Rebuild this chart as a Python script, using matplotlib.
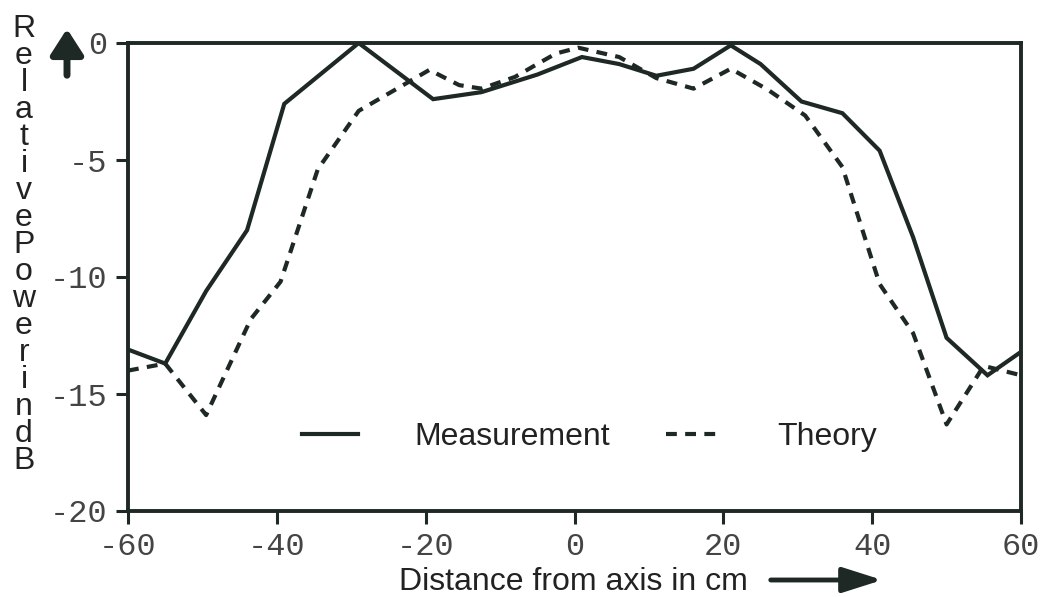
import matplotlib
matplotlib.use("Agg")
import matplotlib.pyplot as plt

# values (distance in cm, relative power in dB)
meas_x = [-60, -55, -49.5, -44, -39, -29, -19, -12.5, -5, 1, 6, 11, 16, 21,
          25, 30.5, 36, 41, 45.5, 50, 55.5, 60]
meas_y = [-13.1, -13.7, -10.6, -8.0, -2.6, 0.0, -2.4, -2.1, -1.35, -0.6, -0.9,
          -1.4, -1.1, -0.1, -0.9, -2.5, -3.0, -4.6, -8.3, -12.6, -14.2, -13.2]

theo_x = [-60, -55, -49.5, -43.5, -39.5, -34.5, -29, -19.5, -15.5, -12.5, -8,
          -5, -2.5, 0.5, 6, 11, 16, 21, 26, 31, 36, 41, 45.5, 50, 55, 60]
theo_y = [-14.0, -13.7, -15.9, -11.8, -10.2, -5.4, -2.9, -1.15, -1.8, -1.95,
          -1.45, -0.9, -0.45, -0.2, -0.6, -1.5, -1.95, -1.1, -2.0, -3.1, -5.3,
          -10.3, -12.4, -16.3, -13.8, -14.2]

x_ticks = [-60, -40, -20, 0, 20, 40, 60]
y_ticks = [-20, -15, -10, -5, 0]
ylabel_text = "RelativePowerindB"

ink = "#1e2824"
plt.rcParams["axes.unicode_minus"] = False

W, H = 1041, 597
fig = plt.figure(figsize=(W / 100, H / 100), dpi=100)
ax = fig.add_axes([128 / W, 1 - 511 / H, (1021 - 128) / W, (511 - 43) / H])

ax.plot(meas_x, meas_y, color=ink, lw=3.0, solid_joinstyle="miter",
        label="Measurement")
ax.plot(theo_x, theo_y, color=ink, lw=3.0, dashes=(2.6, 2.0),
        label="Theory")

ax.set_xlim(-60, 60)
ax.set_ylim(-20, 0)
ax.set_xticks(x_ticks)
ax.set_yticks(y_ticks)
ax.set_xticklabels([str(v) for v in x_ticks])
ax.set_yticklabels([str(v) for v in y_ticks])
for s in ax.spines.values():
    s.set_linewidth(2.8)
    s.set_color(ink)
ax.tick_params(direction="out", length=9, width=2.2, color=ink,
               labelcolor="#444444", labelsize=23, pad=6)
for lab in ax.get_xticklabels() + ax.get_yticklabels():
    lab.set_family("Liberation Mono")

leg = ax.legend(loc="center", bbox_to_anchor=(0.517, 0.158), ncol=2,
                frameon=False, handlelength=1.75, handletextpad=1.75,
                columnspacing=1.75,
                prop={"family": "Liberation Sans", "size": 23})
for t in leg.get_texts():
    t.set_color("#222222")

# stacked y-axis label, one letter per line, as a single text
fig.text(24 / W, 1 - 14 / H, "\n".join(ylabel_text), ha="center", va="top",
         multialignment="center", linespacing=0.87,
         family="Liberation Sans", size=23, color="#222222")

fig.text(399 / W, 1 - 590 / H, "Distance from axis in cm", ha="left",
         va="baseline", family="Liberation Sans", size=23, color="#222222")

# arrows
ax.annotate("", xy=(67, H - 26), xytext=(67, H - 78), xycoords="figure pixels",
            textcoords="figure pixels",
            arrowprops=dict(arrowstyle="-|>,head_width=0.45,head_length=0.7",
                            lw=5, color=ink, mutation_scale=22))
ax.annotate("", xy=(885, H - 580), xytext=(768, H - 580),
            xycoords="figure pixels", textcoords="figure pixels",
            arrowprops=dict(arrowstyle="-|>,head_width=0.35,head_length=1.1",
                            lw=3.5, color=ink, mutation_scale=22))

fig.savefig("out.png", dpi=100)
